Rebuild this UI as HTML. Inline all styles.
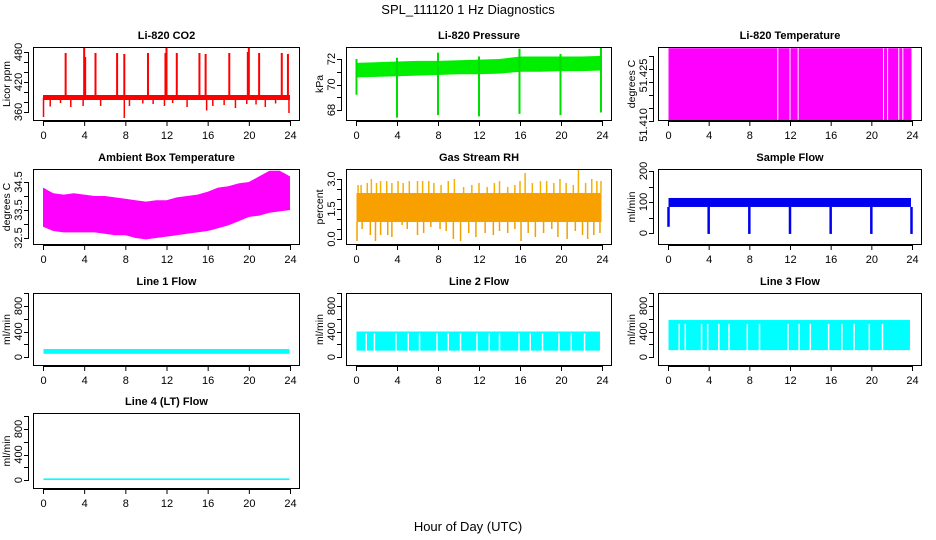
<!DOCTYPE html>
<html><head><meta charset="utf-8"><style>
html,body{margin:0;padding:0;background:#fff;}
svg{display:block;font-family:"Liberation Sans",sans-serif;}
</style></head><body>
<svg id="c" width="936" height="540" viewBox="0 0 936 540">
<text x="468" y="14" text-anchor="middle" font-size="13">SPL_111120  1 Hz Diagnostics</text>
<text x="468" y="531" text-anchor="middle" font-size="13">Hour of Day (UTC)</text>
</svg>
<script>
// ---- data ----
const xTicks = [0,4,8,12,16,20,24];
const co2BandLo = 384, co2BandHi = 394;
const co2SpikeHours = [2.2,4.0,4.1,5.1,7.2,7.9,10.2,11.9,12.0,13.0,15.2,15.8,18.1,19.9,20.0,21.0,23.2,23.8];
const co2SpikeTops  = [478,488,470,478,478,476,478,478,490,478,478,476,478,480,488,478,478,476];
const co2DipHours = [0.05,0.7,1.7,2.7,3.9,5.6,7.9,8.4,9.7,10.7,11.8,12.6,14.0,15.9,16.5,17.6,18.7,19.8,20.7,21.6,22.6,23.9];
const co2DipBottoms = [350,371,378,370,372,372,348,372,377,376,372,378,370,363,372,374,368,376,375,370,377,358];
const presHours = [0,2,4,6,8,10,12,14,16,18,20,22,24];
const presLo = [70.56,70.6,70.65,70.7,70.75,70.8,70.8,70.85,71.0,71.0,71.05,71.05,71.1];
const presHi = [71.7,71.75,71.8,71.85,71.85,71.9,71.95,72.0,72.2,72.2,72.2,72.2,72.25];
const presSpikeHours = [0.05,4.0,8.0,12.0,15.95,19.95,23.9];
const presSpikeMin = [69.2,67.4,67.6,67.5,67.7,67.6,67.8];
const presSpikeMax = [72.0,72.1,72.5,72.2,72.8,72.4,72.9];
const tempLo = 51.410, tempHi = 51.438;
const tempGapHours = [10.8,12.0,12.8,21.2,21.6,22.7,23.1];
const ambHours = [0,1,2,3,4,5,6,7,8,9,10,11,12,13,14,15,16,17,18,19,20,21,22,23,24];
const ambHi = [34.3,34.1,34.05,34.1,34.05,34.0,34.0,33.95,33.9,33.85,33.8,33.85,33.85,33.95,34.0,34.05,34.15,34.3,34.35,34.45,34.5,34.7,34.9,34.9,34.7];
const ambLo = [32.9,32.75,32.7,32.7,32.7,32.7,32.65,32.6,32.6,32.5,32.45,32.5,32.55,32.6,32.65,32.7,32.75,32.85,32.95,33.1,33.25,33.3,33.4,33.45,33.5];
const rhBandLo = 0.85, rhBandHi = 2.3;
const rhUpHours = [0.2,0.5,1.1,1.5,2.0,2.4,3.0,3.5,4.1,4.6,5.2,6.0,6.5,7.1,7.6,8.3,9.0,9.6,10.5,11.3,12.0,12.8,13.5,14.0,14.8,15.5,16.0,16.5,17.2,18.0,18.6,19.3,19.9,20.5,21.2,21.7,22.4,23.0,23.5,23.9];
const rhUpTops = [2.7,2.7,2.8,3.0,2.8,2.9,2.9,2.8,2.9,2.8,2.9,2.9,2.9,2.9,2.8,2.7,2.9,3.0,2.6,2.7,2.8,2.6,2.8,2.9,2.6,2.7,2.9,3.3,2.8,2.9,2.9,2.8,3.0,2.8,2.7,3.5,2.8,3.0,2.9,2.9];
const rhDownHours = [0.1,0.6,1.4,1.9,2.4,3.1,3.5,4.5,5.0,6.0,6.6,7.3,8.2,8.8,9.5,10.2,11.0,11.7,12.6,13.4,14.0,14.8,15.5,16.1,16.8,17.5,18.3,19.1,19.7,20.6,21.4,22.1,22.6,23.2,23.8];
const rhDownBottoms = [-0.1,0.5,0.2,-0.1,0.2,0.2,0.1,0.7,0.5,0.2,0.3,0.6,0.5,0.4,0.0,-0.1,0.3,0.1,0.3,0.2,0.4,0.3,0.5,-0.1,0.3,0.1,0.3,0.5,0.1,0.0,0.4,0.2,0.0,0.2,0.3];
const sampleBandLo = 84, sampleBandHi = 113;
const sampleDipHours = [0.05,4.0,8.0,12.0,16.0,20.0,23.95];
const sampleDipMins = [20,-3,-3,-3,-3,-3,-3];
const line1Lo = 50, line1Hi = 125;
const line2Lo = 100, line2Hi = 400;
const line2GapHours = [1.0,1.8,3.9,5.1,6.2,7.9,9.0,10.2,11.8,13.0,14.0,15.9,17.0,18.2,19.8,21.0,22.3];
const line3Lo = 108, line3Hi = 580;
const line3GapHours = [1.1,1.7,3.3,3.9,5.0,6.0,7.8,9.0,11.8,12.9,14.0,15.8,17.1,18.3,19.8,21.1];
const line4Lo = 0, line4Hi = 25;

// ---- layout ----
const NS = "http://www.w3.org/2000/svg";
const svg = document.getElementById('c');
const colL = [33,346,658], colR = [300,612,922];
const rowT = [47,169,293,413], rowB = [121,245,366,489];

function el(tag, attrs, parent){
  const e = document.createElementNS(NS, tag);
  for (const k in attrs) e.setAttribute(k, attrs[k]);
  (parent||svg).appendChild(e);
  return e;
}

function panel(name, col, row, title, ylab, v0, p0, v1, p1, yTicks, yLabels){
  const L = colL[col], R = colR[col], T = rowT[row], B = rowB[row];
  const g = el('g', {});
  
  
  const x = h => (L+10) + (R-L-20) * h / 24;
  const y = v => p0 + (p1-p0) * (v - v0) / (v1 - v0);
  const clip = el('clipPath', {id: name+'-clip'}, g);
  el('rect', {x:L, y:T, width:R-L, height:B-T}, clip);
  const plot = el('g', {'clip-path': 'url(#'+name+'-clip)'}, g);
  
  
  const box = el('rect', {x:L+0.5, y:T+0.5, width:R-L-1, height:B-T-1, fill:'none', stroke:'#000', 'stroke-width':1}, g);
  
  
  const t = el('text', {x:(L+R)/2, y:T-8, 'text-anchor':'middle', 'font-size':11, 'font-weight':'bold'}, g);
  t.textContent = title;
  
  
  const yl = el('text', {x:0, y:0, 'text-anchor':'middle', 'font-size':10.5, transform:'translate('+(L-23)+','+((T+B)/2)+') rotate(-90)'}, g);
  yl.textContent = ylab;
  
  
  // x axis
  el('line', {x1:x(0), x2:x(24), y1:B+0.5, y2:B+0.5, stroke:'#000'}, g);
  xTicks.forEach(h => {
    el('line', {x1:x(h)+0.5, x2:x(h)+0.5, y1:B, y2:B+5, stroke:'#000'}, g);
    const tl = el('text', {x:x(h)+0.5, y:B+18, 'text-anchor':'middle', 'font-size':11}, g);
    tl.textContent = String(h);
    
    
  });
  // y axis
  el('line', {x1:L-4.5, x2:L-4.5, y1:y(yTicks[0]), y2:y(yTicks[yTicks.length-1]), stroke:'#000'}, g);
  yTicks.forEach(v => {
    el('line', {x1:L-9, x2:L-4, y1:Math.round(y(v))+0.5, y2:Math.round(y(v))+0.5, stroke:'#000'}, g);
  });
  yLabels.forEach(([v, s]) => {
    const tl = el('text', {x:0, y:0, 'text-anchor':'middle', 'font-size':11, transform:'translate('+(L-11)+','+y(v)+') rotate(-90)'}, g);
    tl.textContent = s;
    
    
  });
  return {x, y, g: plot, L, R, T, B};
}

function rectBand(p, h0, h1, lo, hi, color){
  const r = el('rect', {x:p.x(h0), y:p.y(hi), width:p.x(h1)-p.x(h0), height:p.y(lo)-p.y(hi), fill:color}, p.g);
  
  
  return r;
}
function polyBand(p, hours, lo, hi, color){
  let pts = hours.map((h,i)=>p.x(h)+','+p.y(hi[i]));
  for (let i=hours.length-1;i>=0;i--) pts.push(p.x(hours[i])+','+p.y(lo[i]));
  const r = el('polygon', {points:pts.join(' '), fill:color}, p.g);
  
  
}
function vline(p, h, a, b, color, w, nm){
  const l = el('line', {x1:p.x(h), x2:p.x(h), y1:p.y(a), y2:p.y(b), stroke:color, 'stroke-width':w}, p.g);
  
  
}

// CO2
let p = panel('co2', 0, 0, 'Li-820 CO2', 'Licor ppm', 360, 112, 480, 52,
  [360,380,400,420,440,460,480], [[360,'360'],[420,'420'],[480,'480']]);
rectBand(p, 0, 24, co2BandLo, co2BandHi, '#ff0000');
co2SpikeHours.forEach((h,i)=>vline(p, h, 389, co2SpikeTops[i], '#ff0000', 2, 'co2-spike'));
co2DipHours.forEach((h,i)=>vline(p, h, 389, co2DipBottoms[i], '#ff0000', 1.5, 'co2-dip'));

// Pressure
p = panel('pressure', 1, 0, 'Li-820 Pressure', 'kPa', 68, 110, 72, 59,
  [68,69,70,71,72], [[68,'68'],[70,'70'],[72,'72']]);
polyBand(p, presHours, presLo, presHi, '#00ee00');
presSpikeHours.forEach((h,i)=>vline(p, h, presSpikeMin[i], presSpikeMax[i], '#00dd00', 2, 'pressure-spike'));

// Temperature
p = panel('li820-temp', 2, 0, 'Li-820 Temperature', 'degrees C', 51.410, 121, 51.425, 82,
  [51.410,51.415,51.420,51.425,51.430,51.435], [[51.4085,'51.410'],[51.4275,'51.425']]);
rectBand(p, 0.05, 23.95, tempLo, tempHi, '#ff00ff');
tempGapHours.forEach(h=>vline(p, h, tempLo+0.0005, tempHi, '#ffffff', 1, 'temp-gap'));

// Ambient
p = panel('ambient', 0, 1, 'Ambient Box Temperature', 'degrees C', 32.5, 238, 34.5, 182,
  [32.5,33,33.5,34,34.5], [[32.5,'32.5'],[33.5,'33.5'],[34.5,'34.5']]);
polyBand(p, ambHours, ambLo, ambHi, '#ff00ff');

// RH
p = panel('rh', 1, 1, 'Gas Stream RH', 'percent', 0, 239, 3, 179,
  [0,0.5,1,1.5,2,2.5,3], [[0,'0.0'],[1.5,'1.5'],[3,'3.0']]);
rectBand(p, 0.05, 23.95, rhBandLo, rhBandHi, '#f7a000');
rhUpHours.forEach((h,i)=>vline(p, h, rhBandHi, rhUpTops[i], '#f5b000', 1.5, 'rh-up-spike'));
rhDownHours.forEach((h,i)=>vline(p, h, rhBandLo, rhDownBottoms[i], '#f0a000', 1.5, 'rh-down-spike'));

// Sample flow
p = panel('sample-flow', 2, 1, 'Sample Flow', 'ml/min', 0, 233, 200, 171,
  [0,50,100,150,200], [[0,'0'],[100,'100'],[200,'200']]);
rectBand(p, 0.05, 23.9, sampleBandLo, sampleBandHi, '#0000ee');
sampleDipHours.forEach((h,i)=>vline(p, h, sampleBandLo, sampleDipMins[i], '#0000ee', 2.5, 'sample-dip'));

// Line flows
const flowTicks = [0,200,400,600,800,1000];
const flowLabels = [[0,'0'],[400,'400'],[800,'800']];
p = panel('line1-flow', 0, 2, 'Line 1 Flow', 'ml/min', 0, 357, 800, 306, flowTicks, flowLabels);
rectBand(p, 0.05, 23.95, line1Lo, line1Hi, '#00ffff');
p = panel('line2-flow', 1, 2, 'Line 2 Flow', 'ml/min', 0, 357, 800, 306, flowTicks, flowLabels);
rectBand(p, 0.05, 23.8, line2Lo, line2Hi, '#00ffff');
line2GapHours.forEach(h=>vline(p, h, line2Lo, line2Hi-30, '#ffffff', 1.5, 'line2-gap'));
p = panel('line3-flow', 2, 2, 'Line 3 Flow', 'ml/min', 0, 357, 800, 306, flowTicks, flowLabels);
rectBand(p, 0.05, 23.8, line3Lo, line3Hi, '#00ffff');
line3GapHours.forEach(h=>vline(p, h, line3Lo, line3Hi-60, '#ffffff', 1.5, 'line3-gap'));
p = panel('line4-flow', 0, 3, 'Line 4 (LT) Flow', 'ml/min', 0, 480, 800, 429, flowTicks, flowLabels);
rectBand(p, 0.05, 23.95, line4Lo, line4Hi, '#00ffff');
</script>
</body></html>
